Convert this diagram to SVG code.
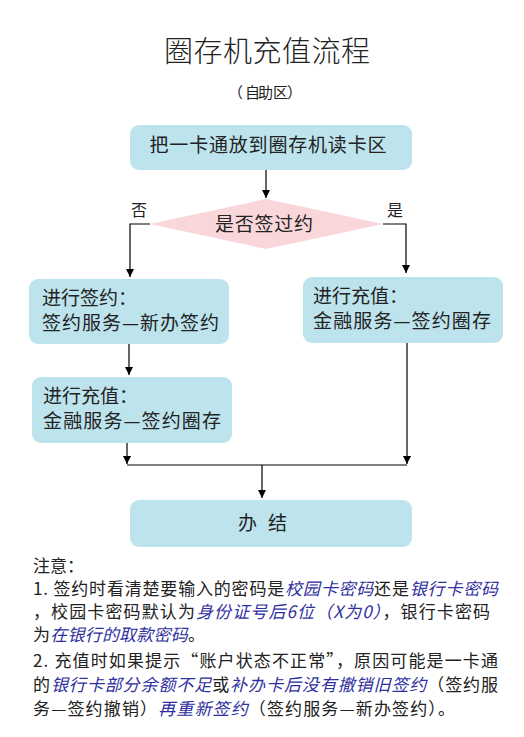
<svg xmlns="http://www.w3.org/2000/svg" width="524" height="737" viewBox="0 0 524 737">
<style>
text{font-family:"Noto Sans CJK SC","Noto Sans",sans-serif;fill:#222}
.box{fill:#bde3ed}
.dia{fill:#f8d6da}
.ln{stroke:#000;stroke-width:1.2;fill:none}
.t19{font-size:19px}
.n{font-size:17px}
.i{fill:#2f2fa0;font-style:italic}
</style>
<defs>
<marker id="ah" viewBox="0 0 8 10" refX="8" refY="5" markerWidth="8" markerHeight="10" markerUnits="userSpaceOnUse" orient="auto">
<path d="M0,1 L8,5 L0,9 Z" fill="#000"/>
</marker>
</defs>
<rect width="524" height="737" fill="#fff"/>
<text x="267" y="62" font-size="29" font-weight="300" text-anchor="middle" textLength="206" lengthAdjust="spacing">圈存机充值流程</text>
<text x="228 245 258 273 287" y="98" font-size="15">（自助区）</text>

<g id="connectors">
<path class="ln" d="M266,170 V198" marker-end="url(#ah)"/>
<path class="ln" d="M150,224 H130 V277" marker-end="url(#ah)"/>
<path class="ln" d="M383,224 H406 V273" marker-end="url(#ah)"/>
<path class="ln" d="M129,344 V375" marker-end="url(#ah)"/>
<path class="ln" d="M127,443 V464" marker-end="url(#ah)"/>
<path class="ln" d="M407,343 V464" marker-end="url(#ah)"/>
<path class="ln" d="M127,465 H407"/>
<path class="ln" d="M262,465 V498" marker-end="url(#ah)"/>
</g>

<g id="n1">
<rect class="box" x="130" y="125" width="282" height="45" rx="9"/>
<text class="t19" x="268" y="152" text-anchor="middle" textLength="237" lengthAdjust="spacing">把一卡通放到圈存机读卡区</text>
</g>

<g id="n2">
<polygon class="dia" points="266,199 383,224 266,249 150,224"/>
<text class="t19" x="264" y="231" text-anchor="middle" textLength="98" lengthAdjust="spacing">是否签过约</text>
</g>
<text x="131" y="216" font-size="16">否</text>
<text x="387" y="216" font-size="16">是</text>

<g id="n3">
<rect class="box" x="29" y="279" width="200" height="65" rx="9"/>
<text class="t19" x="42" y="305">进行签约：</text>
<text class="t19" x="42" y="330" textLength="177" lengthAdjust="spacing">签约服务—新办签约</text>
</g>

<g id="n4">
<rect class="box" x="303" y="277" width="200" height="66" rx="9"/>
<text class="t19" x="313" y="303">进行充值：</text>
<text class="t19" x="313" y="328" textLength="178" lengthAdjust="spacing">金融服务—签约圈存</text>
</g>

<g id="n5">
<rect class="box" x="32" y="377" width="200" height="66" rx="9"/>
<text class="t19" x="43" y="403">进行充值：</text>
<text class="t19" x="43" y="428" textLength="178" lengthAdjust="spacing">金融服务—签约圈存</text>
</g>

<g id="n6">
<rect class="box" x="130" y="500" width="282" height="47" rx="9"/>
<text class="t19" x="238" y="530" textLength="49" lengthAdjust="spacing">办 结</text>
</g>

<g id="notes">
<text class="n" x="33" y="572">注意：</text>
<text class="n" x="33" y="595" textLength="465" lengthAdjust="spacing">1. 签约时看清楚要输入的密码是<tspan class="i">校园卡密码</tspan>还是<tspan class="i">银行卡密码</tspan></text>
<text class="n" x="33" y="618" textLength="457" lengthAdjust="spacing">，校园卡密码默认为<tspan class="i">身份证号后6位（X为0）</tspan>，银行卡密码</text>
<text class="n" x="33" y="641" textLength="172" lengthAdjust="spacing">为<tspan class="i">在银行的取款密码</tspan>。</text>
<text class="n" x="33" y="667" textLength="465" lengthAdjust="spacing">2. 充值时如果提示“账户状态不正常”，原因可能是一卡通</text>
<text class="n" x="33" y="691" textLength="465" lengthAdjust="spacing">的<tspan class="i">银行卡部分余额不足</tspan>或<tspan class="i">补办卡后没有撤销旧签约</tspan>（签约服</text>
<text class="n" x="33" y="715" textLength="422" lengthAdjust="spacing">务—签约撤销）<tspan class="i">再重新签约</tspan>（签约服务—新办签约）。</text>
</g>
</svg>
